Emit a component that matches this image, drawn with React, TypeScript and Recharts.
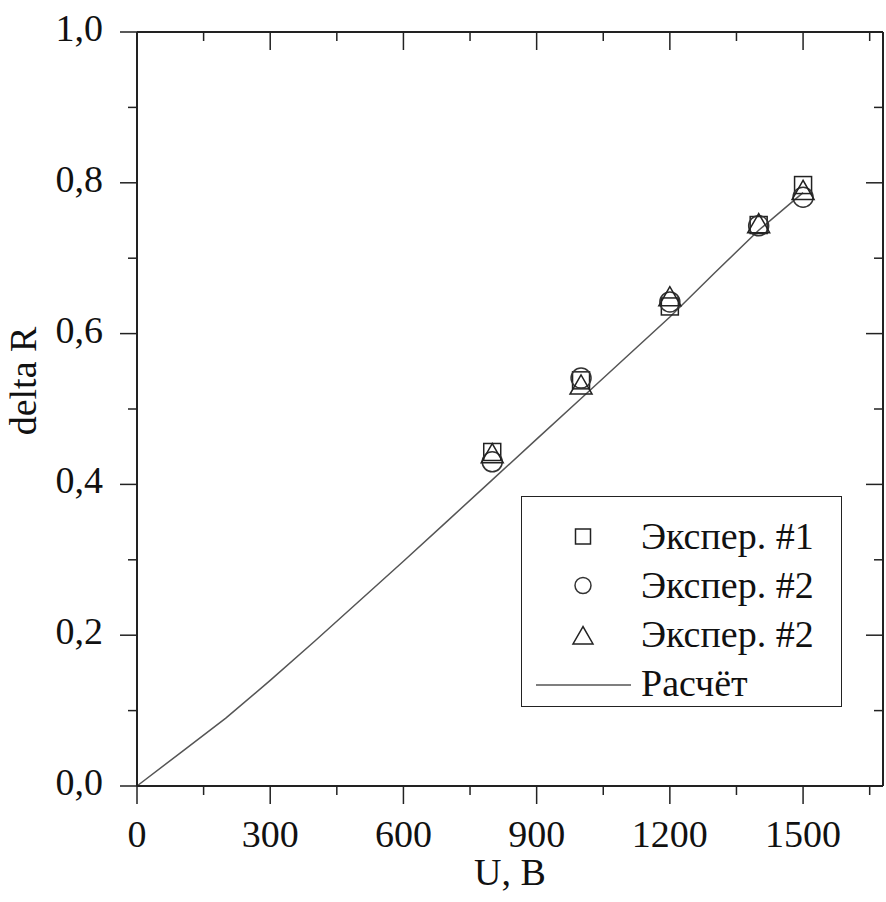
import { ComposedChart, Line, Scatter, XAxis, YAxis } from 'recharts';

// experimental points
const uExp = [800, 1000, 1200, 1400, 1500];
const exp1 = [0.443, 0.538, 0.636, 0.744, 0.797];
const exp2 = [0.43, 0.541, 0.642, 0.743, 0.781];
const exp3 = [0.439, 0.53, 0.647, 0.744, 0.788];

// calculated curve
const uCalc = [0, 100, 200, 300, 400, 500, 600, 700, 800, 900, 1000, 1100, 1200, 1300, 1400, 1500];
const rCalc = [0, 0.045, 0.09, 0.14, 0.192, 0.245, 0.298, 0.352, 0.406, 0.46, 0.514, 0.568, 0.622, 0.68, 0.737, 0.787];

const xTicks = [0, 150, 300, 450, 600, 750, 900, 1050, 1200, 1350, 1500, 1650];
const yTicks = [0, 0.1, 0.2, 0.3, 0.4, 0.5, 0.6, 0.7, 0.8, 0.9, 1.0];

const legendItems = ['Экспер. #1', 'Экспер. #2', 'Экспер. #2', 'Расчёт'];

const series1 = uExp.map((u, i) => ({ x: u, y: exp1[i] }));
const series2 = uExp.map((u, i) => ({ x: u, y: exp2[i] }));
const series3 = uExp.map((u, i) => ({ x: u, y: exp3[i] }));
const calc = uCalc.map((u, i) => ({ x: u, y: rCalc[i] }));

const FONT = 'Liberation Serif, Tinos, Times New Roman, DejaVu Serif, serif';
const INK = '#222';

const isMajorX = (v: number) => v % 300 === 0;
const isMajorY = (v: number) => Math.round(v * 10) % 2 === 0;

function BottomTick(props: any) {
    const { x, y, payload } = props;
    const major = isMajorX(payload.value);
    return (
        <g>
            <line x1={x} x2={x} y1={y} y2={y + (major ? 18 : 9)} stroke={INK} strokeWidth={1.5} />
            {major && (
                <text x={x} y={y + 61} textAnchor="middle" style={{ fontFamily: FONT }} fontSize={38} fill="#111">
                    {payload.value}
                </text>
            )}
        </g>
    );
}

function TopTick(props: any) {
    const { x, y, payload } = props;
    const major = isMajorX(payload.value);
    return <line x1={x} x2={x} y1={y} y2={y + (major ? 18 : 9)} stroke={INK} strokeWidth={1.5} />;
}

function LeftTick(props: any) {
    const { x, y, payload } = props;
    const major = isMajorY(payload.value);
    return (
        <g>
            <line x1={x} x2={x - (major ? 17 : 9)} y1={y} y2={y} stroke={INK} strokeWidth={1.5} />
            {major && (
                <text x={x - 34} y={y + 9} textAnchor="end" style={{ fontFamily: FONT }} fontSize={38} fill="#111">
                    {payload.value.toFixed(1).replace('.', ',')}
                </text>
            )}
        </g>
    );
}

function RightTick(props: any) {
    const { x, y, payload } = props;
    const major = isMajorY(payload.value);
    return <line x1={x} x2={x - (major ? 17 : 9)} y1={y} y2={y} stroke={INK} strokeWidth={1.5} />;
}

const Square = ({ cx, cy, s = 17 }: any) => (
    <rect x={cx - s / 2} y={cy - s / 2} width={s} height={s} fill="none" stroke={INK} strokeWidth={1.5} />
);
const Circle = ({ cx, cy, r = 10 }: any) => <circle cx={cx} cy={cy} r={r} fill="none" stroke="#333" strokeWidth={1.5} />;
const Triangle = ({ cx, cy, w = 22 }: any) => {
    const h = w * 0.87;
    return (
        <polygon
            points={`${cx},${cy - h * 0.6} ${cx - w / 2},${cy + h * 0.4} ${cx + w / 2},${cy + h * 0.4}`}
            fill="none"
            stroke={INK}
            strokeWidth={1.5}
        />
    );
};
const Nothing = () => <g />;

function LegendBox() {
    return (
        <div
            style={{
                position: 'absolute',
                left: 521,
                top: 496,
                width: 321,
                height: 211,
                border: `1.5px solid ${INK}`,
                background: '#fff',
                paddingTop: 15,
                boxSizing: 'border-box',
                fontFamily: FONT,
                fontSize: 38,
                color: '#111',
            }}
        >
            {legendItems.map((name, i) => (
                <div key={i} style={{ position: 'relative', height: 49 }}>
                    <svg width={119} height={49} style={{ position: 'absolute', left: 0, top: 0 }}>
                        {i === 0 && <Square cx={61} cy={24.5} s={15} />}
                        {i === 1 && <Circle cx={61} cy={24.5} r={8} />}
                        {i === 2 && <Triangle cx={61} cy={27} w={20} />}
                        {i === 3 && <line x1={14} x2={109} y1={26} y2={26} stroke="#555" strokeWidth={1.5} />}
                    </svg>
                    <span style={{ position: 'absolute', left: 119, top: 0, lineHeight: '49px', whiteSpace: 'nowrap' }}>{name}</span>
                </div>
            ))}
        </div>
    );
}

export default function App() {
    return (
        <div style={{ position: 'absolute', left: 0, top: 0, width: 886, height: 902, background: '#fff' }}>
            <ComposedChart width={886} height={902} margin={{ top: 31, right: 2, bottom: 0, left: 0 }}>
                <XAxis
                    type="number"
                    dataKey="x"
                    domain={[0, 1680]}
                    ticks={xTicks}
                    interval={0}
                    height={116}
                    tickSize={0}
                    tickMargin={0}
                    tickLine={false}
                    axisLine={{ stroke: INK, strokeWidth: 2 }}
                    tick={(p: any) => <BottomTick {...p} />}
                    label={{
                        content: ({ viewBox }: any) => (
                            <text x={viewBox.x + viewBox.width / 2} y={viewBox.y + 99} textAnchor="middle" style={{ fontFamily: FONT }} fontSize={38} fill="#111">
                                U, B
                            </text>
                        ),
                    }}
                />
                <XAxis
                    xAxisId="top"
                    orientation="top"
                    type="number"
                    dataKey="x"
                    domain={[0, 1680]}
                    ticks={xTicks}
                    interval={0}
                    height={1}
                    tickSize={0}
                    tickMargin={0}
                    tickLine={false}
                    axisLine={{ stroke: INK, strokeWidth: 2 }}
                    tick={(p: any) => <TopTick {...p} />}
                />
                <YAxis
                    type="number"
                    domain={[0, 1]}
                    ticks={yTicks}
                    interval={0}
                    width={137}
                    tickSize={0}
                    tickMargin={0}
                    tickLine={false}
                    axisLine={{ stroke: INK, strokeWidth: 2 }}
                    tick={(p: any) => <LeftTick {...p} />}
                    label={{
                        content: ({ viewBox }: any) => {
                            const cx = viewBox.x + 23;
                            const cy = viewBox.y + viewBox.height / 2 - 28;
                            return (
                                <text
                                    x={cx}
                                    y={cy}
                                    transform={`rotate(-90, ${cx}, ${cy})`}
                                    textAnchor="middle"
                                    dominantBaseline="central"
                                    style={{ fontFamily: FONT }}
                                    fontSize={38}
                                    fill="#111"
                                >
                                    delta R
                                </text>
                            );
                        },
                    }}
                />
                <YAxis
                    yAxisId="right"
                    orientation="right"
                    type="number"
                    domain={[0, 1]}
                    ticks={yTicks}
                    interval={0}
                    width={1}
                    tickSize={0}
                    tickMargin={0}
                    tickLine={false}
                    axisLine={{ stroke: INK, strokeWidth: 2 }}
                    tick={(p: any) => <RightTick {...p} />}
                />
                <Line data={calc} dataKey="y" type="linear" stroke="#555" strokeWidth={1.5} dot={false} isAnimationActive={false} />
                <Scatter data={series1} dataKey="y" shape={(p: any) => <Square cx={p.cx} cy={p.cy} />} isAnimationActive={false} />
                <Scatter data={series2} dataKey="y" shape={(p: any) => <Circle cx={p.cx} cy={p.cy} />} isAnimationActive={false} />
                <Scatter data={series3} dataKey="y" shape={(p: any) => <Triangle cx={p.cx} cy={p.cy} />} isAnimationActive={false} />
                {/* carrier for the mirrored frame axes */}
                <Scatter data={series1} dataKey="y" xAxisId="top" yAxisId="right" shape={() => <Nothing />} isAnimationActive={false} />
            </ComposedChart>
            <LegendBox />
        </div>
    );
}
